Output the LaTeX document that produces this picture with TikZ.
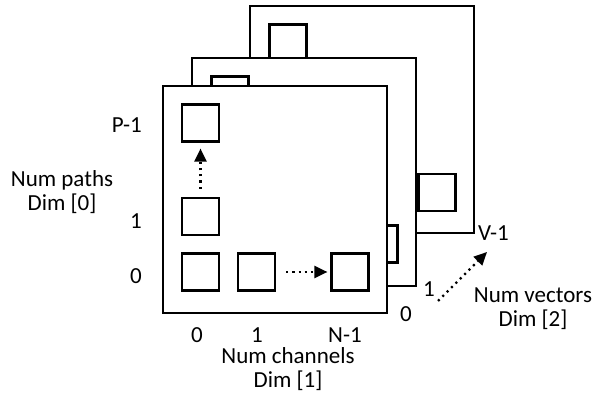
\documentclass[tikz,border=0pt]{standalone}
\usepackage{fontspec}
\setmainfont{Carlito}
\usetikzlibrary{arrows.meta}
\begin{document}
\begin{tikzpicture}[x=1pt,y=-1pt,
  frame/.style={draw,fill=white,line width=2.2pt},
  cell/.style={draw,fill=white,line width=2.2pt,minimum size=37pt,inner sep=0pt},
  lbl/.style={font=\fontsize{23}{24}\selectfont,inner sep=0pt,align=center},
  dotarrow/.style={line width=2.2pt,dash pattern=on 2.2pt off 4pt,-{Triangle[length=13pt,width=12pt]}}]
\useasboundingbox (0,0) rectangle (595,395);
% back layer
\draw[frame] (250,6) rectangle (474,233);
\node[cell] (bP) at (288,43) {};
\node[cell] (bN) at (437,192.5) {};
% middle layer
\draw[frame] (192,58) rectangle (416,286);
\node[cell] (mP) at (230,95) {};
\node[cell] (mN) at (379,244) {};
% front layer
\draw[frame] (163,86) rectangle (387,313);
\node[cell] (sP) at (200.5,123) {};
\node[cell] (s1) at (200.5,216.5) {};
\node[cell] (s00) at (200.5,272) {};
\node[cell] (s01) at (256.5,272) {};
\node[cell] (sN) at (350,272) {};
\draw[dotarrow] ([yshift=8pt]s1.north) -- ([yshift=-6pt]sP.south);
\draw[dotarrow] ([xshift=10pt]s01.east) -- ([xshift=-3pt]sN.west);
% labels
\node[lbl,anchor=east] (lP) at (142,125) {P-1};
\node[lbl,anchor=east] (l1) at (142,221) {1};
\node[lbl,anchor=east] (l0) at (142,276) {0};
\node[lbl] (paths) at (62,192) {Num paths\\Dim [0]};
\node[lbl] (c0) at (197,335) {0};
\node[lbl] (c1) at (257,335) {1};
\node[lbl] (cN) at (345,335) {N-1};
\node[lbl] (chan) at (288,369) {Num channels\\Dim [1]};
\node[lbl] (v0) at (406,314) {0};
\node[lbl] (v1) at (429,289) {1};
\node[lbl,anchor=west] (vV) at (478,233) {V-1};
\node[lbl] (vec) at (533,309) {Num vectors\\Dim [2]};
\coordinate (ds) at (438,301);
\coordinate (de) at (487,252);
\draw[dotarrow] (ds) -- (de);
\end{tikzpicture}
\end{document}
